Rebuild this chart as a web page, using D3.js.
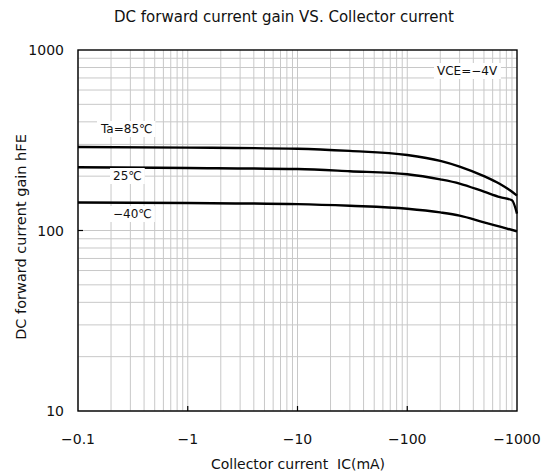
<!DOCTYPE html>
<html>
<head>
<meta charset="utf-8">
<script src="https://cdn.jsdelivr.net/npm/d3@7"></script>
<style>
body { margin: 0; background: #fff; }
text { font-family: "DejaVu Sans", "Noto Sans CJK JP", sans-serif; fill: #111; }
</style>
</head>
<body>
<svg></svg>
<script>
let width = 549
let height = 474
let margin = {top: 50, right: 32, bottom: 63, left: 78}

let xTicks = [0.1, 1, 10, 100, 1000]
let xTickLabels = ['−0.1', '−1', '−10', '−100', '−1000']
let yTicks = [10, 100, 1000]
let yTickLabels = ['10', '100', '1000']

let ic85 = [0.1, 1, 10, 30, 100, 200, 300, 500, 700, 850, 1000]
let hfe85 = [290, 288, 284, 276, 262, 243, 226, 200, 181, 168, 156]
let ic25 = [0.1, 1, 10, 30, 100, 200, 300, 500, 700, 900, 1000]
let hfe25 = [224, 222, 219, 213, 205, 192, 182, 164, 153, 147, 124]
let icM40 = [0.1, 1, 10, 30, 100, 200, 300, 500, 700, 1000]
let hfeM40 = [143, 142, 140, 137, 132, 126, 121, 111, 105, 99]

let seriesLabels = ['Ta=85℃', '25℃', '−40℃']

let svg = d3.select('svg')
    .attr('width', width)
    .attr('height', height)

let x = d3.scaleLog().domain([0.1, 1000]).range([margin.left, width - margin.right])
let y = d3.scaleLog().domain([10, 1000]).range([height - margin.bottom, margin.top])

// minor + major grid
let xGrid = []
let yGrid = []
for (let d = 0.1; d < 1000; d *= 10) {
    for (let k = 1; k < 10; k++) xGrid.push(d * k)
}
for (let d = 10; d < 1000; d *= 10) {
    for (let k = 1; k < 10; k++) yGrid.push(d * k)
}
svg.append('g').selectAll('line')
    .data(xGrid).enter()
    .append('line')
    .attr('x1', d => x(d)).attr('x2', d => x(d))
    .attr('y1', y(10)).attr('y2', y(1000))
    .attr('stroke', '#c8c8c8').attr('stroke-width', 1)
svg.append('g').selectAll('line')
    .data(yGrid).enter()
    .append('line')
    .attr('y1', d => y(d)).attr('y2', d => y(d))
    .attr('x1', x(0.1)).attr('x2', x(1000))
    .attr('stroke', '#c8c8c8').attr('stroke-width', 1)

// major ticks inside the frame
svg.append('g').selectAll('line')
    .data(xTicks.slice(1, -1)).enter()
    .append('line')
    .attr('x1', d => x(d)).attr('x2', d => x(d))
    .attr('y1', y(10)).attr('y2', y(10) - 5)
    .attr('stroke', '#000').attr('stroke-width', 1.2)
svg.append('g').selectAll('line')
    .data(yTicks.slice(1, -1)).enter()
    .append('line')
    .attr('y1', d => y(d)).attr('y2', d => y(d))
    .attr('x1', x(0.1)).attr('x2', x(0.1) + 5)
    .attr('stroke', '#000').attr('stroke-width', 1.2)

// curves
let line = d3.line()
    .x(d => x(d[0]))
    .y(d => y(d[1]))
    .curve(d3.curveMonotoneX)
let series = [
    d3.zip(ic85, hfe85),
    d3.zip(ic25, hfe25),
    d3.zip(icM40, hfeM40)
]
svg.append('g').selectAll('path')
    .data(series).enter()
    .append('path')
    .attr('d', line)
    .attr('fill', 'none')
    .attr('stroke', '#000')
    .attr('stroke-width', 2.4)

// frame
svg.append('rect')
    .attr('x', x(0.1)).attr('y', y(1000))
    .attr('width', x(1000) - x(0.1))
    .attr('height', y(10) - y(1000))
    .attr('fill', 'none')
    .attr('stroke', '#000')
    .attr('stroke-width', 1.4)

// labels with white boxes
function boxedLabel(tx, ty, str, size) {
    let g = svg.append('g')
    let t = g.append('text')
        .attr('x', tx).attr('y', ty)
        .attr('font-size', size)
        .text(str)
    let b = t.node().getBBox()
    g.insert('rect', 'text')
        .attr('x', b.x - 3).attr('y', b.y - 1)
        .attr('width', b.width + 6).attr('height', b.height + 2)
        .attr('fill', '#fff')
}
let labelPos = [[101, 133], [113, 180], [113, 218]]
seriesLabels.forEach((s, i) => boxedLabel(labelPos[i][0], labelPos[i][1], s, 12))
boxedLabel(437, 75, 'VCE=−4V', 12)

// tick labels
svg.append('g').selectAll('text')
    .data(xTicks).enter()
    .append('text')
    .attr('x', d => x(d))
    .attr('y', height - margin.bottom + 33)
    .attr('text-anchor', 'middle')
    .attr('font-size', 14)
    .text((d, i) => xTickLabels[i])
svg.append('g').selectAll('text')
    .data(yTicks).enter()
    .append('text')
    .attr('x', margin.left - 14)
    .attr('y', d => y(d) + 5)
    .attr('text-anchor', 'end')
    .attr('font-size', 14)
    .text((d, i) => yTickLabels[i])

// titles
svg.append('text')
    .attr('x', 284).attr('y', 22)
    .attr('text-anchor', 'middle')
    .attr('font-size', 15)
    .text('DC forward current gain VS. Collector current')
svg.append('text')
    .attr('x', 298).attr('y', 469)
    .attr('text-anchor', 'middle')
    .attr('font-size', 14)
    .attr('xml:space', 'preserve')
    .text('Collector current  IC(mA)')
svg.append('text')
    .attr('transform', 'translate(26,237) rotate(-90)')
    .attr('text-anchor', 'middle')
    .attr('font-size', 14.5)
    .text('DC forward current gain hFE')
</script>
</body>
</html>
